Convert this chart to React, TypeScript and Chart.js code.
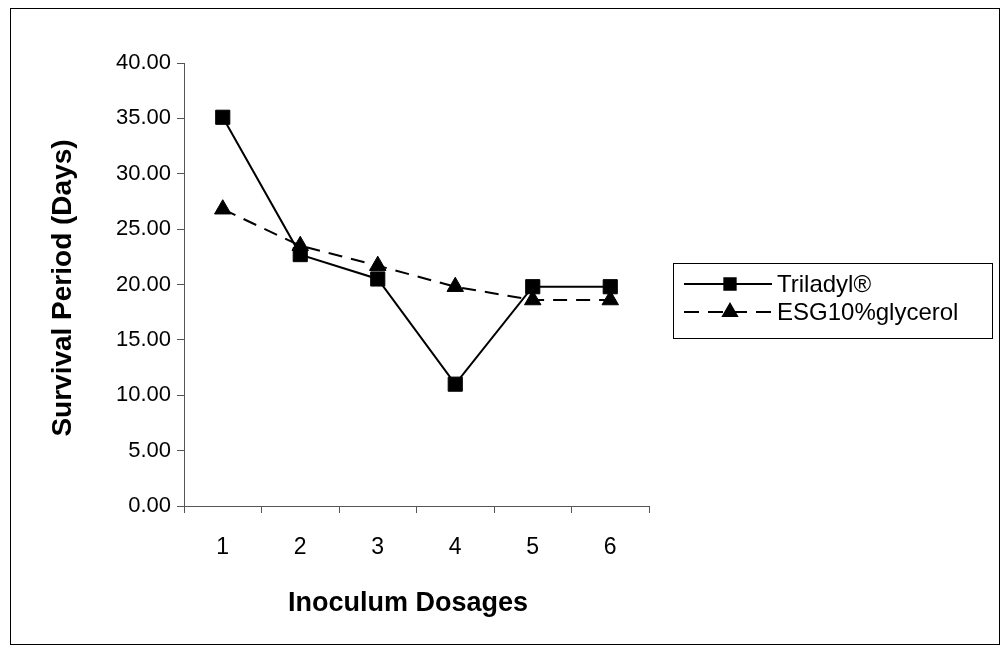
import React, { useEffect, useRef } from 'react';
import { Chart, registerables } from 'chart.js';
import { drawPoint } from 'chart.js/helpers';

Chart.register(...registerables);

const categories = ['1', '2', '3', '4', '5', '6'];
const triladylValues = [35.1, 22.7, 20.5, 11.0, 19.8, 19.8];
const esgValues = [26.8, 23.5, 21.7, 19.8, 18.6, 18.6];
const seriesLabels = ['Triladyl®', 'ESG10%glycerol'];
const xTitle = 'Inoculum Dosages';
const yTitle = 'Survival Period (Days)';
const yMin = 0;
const yMax = 40;
const yStep = 5;

const FONT = '"Liberation Sans", Arial, Helvetica, sans-serif';

const decorPlugin = {
  id: 'decor',
  afterDraw(chart: any) {
    const ctx = chart.ctx as CanvasRenderingContext2D;
    const a = chart.chartArea;
    ctx.save();
    // outer frame
    ctx.strokeStyle = '#000';
    ctx.lineWidth = 1;
    ctx.setLineDash([]);
    ctx.strokeRect(10.5, 8.5, 989, 636);

    // axis titles
    ctx.fillStyle = '#000';
    ctx.textAlign = 'center';
    ctx.textBaseline = 'middle';
    ctx.font = `bold 27px ${FONT}`;
    ctx.fillText(xTitle, 408, 604);
    ctx.save();
    ctx.font = `bold 28px ${FONT}`;
    ctx.translate(63, 288);
    ctx.rotate(-Math.PI / 2);
    ctx.fillText(yTitle, 0, 0);
    ctx.restore();

    // legend box
    ctx.strokeStyle = '#000';
    ctx.lineWidth = 1;
    ctx.strokeRect(673.5, 263.5, 319, 75);
    chart.data.datasets.forEach((ds: any, i: number) => {
      const y = 284 + i * 28;
      ctx.strokeStyle = '#000';
      ctx.lineWidth = 2;
      ctx.setLineDash(ds.borderDash ? [15, 9] : []);
      ctx.beginPath();
      ctx.moveTo(684, y);
      ctx.lineTo(772, y);
      ctx.stroke();
      ctx.setLineDash([]);
      ctx.fillStyle = '#000';
      drawPoint(ctx, { pointStyle: ds.pointStyle, radius: 8, rotation: 0, borderWidth: 1 } as any, 730, y);
      ctx.fillStyle = '#000';
      ctx.font = `24px ${FONT}`;
      ctx.textAlign = 'left';
      ctx.textBaseline = 'middle';
      ctx.fillText(ds.label, 777, y + 1);
    });
    ctx.restore();
  },
};

export default function App() {
  const ref = useRef<HTMLCanvasElement | null>(null);
  useEffect(() => {
    if (!ref.current) return;
    const chart = new Chart(ref.current, {
      type: 'line',
      data: {
        labels: categories,
        datasets: [
          {
            label: seriesLabels[0],
            data: triladylValues,
            borderColor: '#000',
            backgroundColor: '#000',
            borderWidth: 2,
            pointStyle: 'rect',
            pointRadius: 10,
            pointBackgroundColor: '#000',
            pointBorderColor: '#000',
            pointBorderWidth: 1,
            tension: 0,
            fill: false,
          },
          {
            label: seriesLabels[1],
            data: esgValues,
            borderColor: '#000',
            backgroundColor: '#000',
            borderWidth: 2,
            borderDash: [14, 9],
            pointStyle: 'triangle',
            pointRadius: 9.5,
            pointBackgroundColor: '#000',
            pointBorderColor: '#000',
            pointBorderWidth: 1,
            tension: 0,
            fill: false,
          },
        ],
      },
      options: {
        responsive: false,
        animation: false,
        devicePixelRatio: 1,
        layout: { padding: { left: 0, top: 63, right: 359, bottom: 0 } },
        plugins: {
          legend: { display: false },
          tooltip: { enabled: false },
          title: { display: false },
        },
        scales: {
          x: {
            type: 'category',
            offset: true,
            grid: {
              offset: true,
              drawOnChartArea: false,
              drawTicks: true,
              tickLength: 7,
              color: '#555',
            },
            border: { color: '#555', width: 1 },
            ticks: {
              color: '#000',
              font: { family: FONT, size: 23 },
              padding: 21,
              maxRotation: 0,
            },
            afterFit: (scale: any) => {
              scale.height = 149;
            },
          },
          y: {
            min: yMin,
            max: yMax,
            grid: {
              drawOnChartArea: false,
              drawTicks: true,
              tickLength: 7,
              color: '#555',
            },
            border: { color: '#555', width: 1 },
            ticks: {
              stepSize: yStep,
              color: '#000',
              font: { family: FONT, size: 22 },
              padding: 6,
              callback: (v: any) => Number(v).toFixed(2),
            },
            afterFit: (scale: any) => {
              scale.width = 184;
            },
          },
        },
      },
      plugins: [decorPlugin],
    });
    return () => chart.destroy();
  }, []);
  return (
    <div style={{ position: 'absolute', left: 0, top: 0, width: 1008, height: 655, background: '#fff' }}>
      <canvas ref={ref} width={1008} height={655} style={{ display: 'block', width: 1008, height: 655 }} />
    </div>
  );
}
